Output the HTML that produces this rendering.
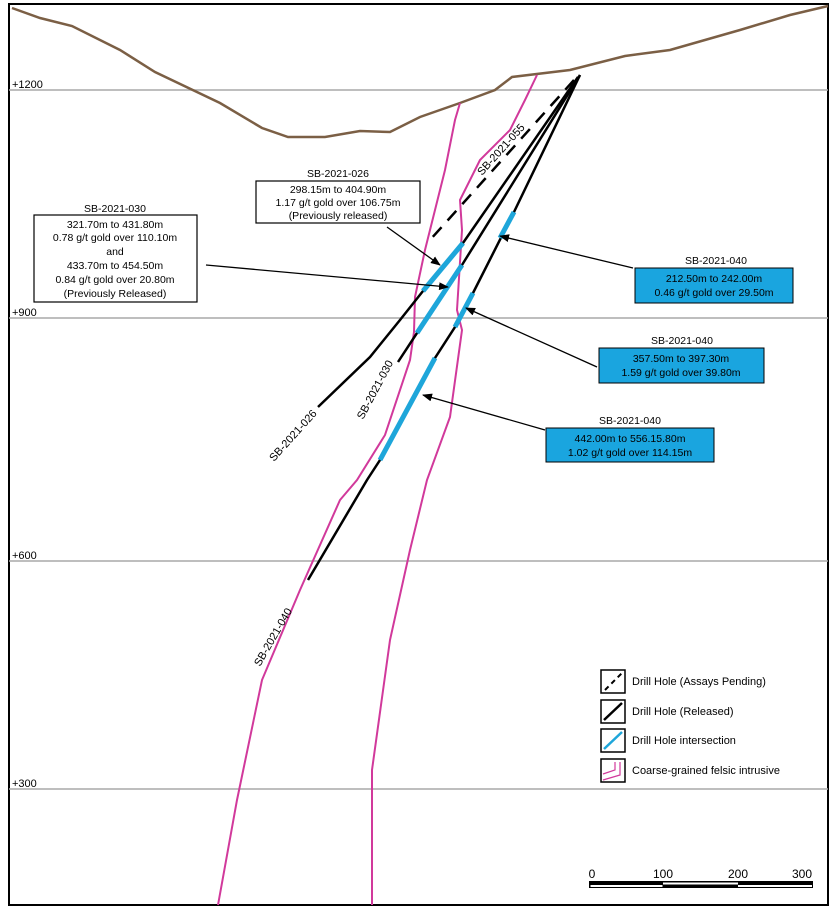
<!DOCTYPE html>
<html><head><meta charset="utf-8"><style>
body{margin:0;background:#fff}
svg text{font-family:"Liberation Sans",sans-serif}
</style></head><body>
<svg width="836" height="911" viewBox="0 0 836 911" xmlns="http://www.w3.org/2000/svg">
<defs><marker id="a" markerWidth="10" markerHeight="8" refX="9" refY="4" orient="auto" markerUnits="userSpaceOnUse"><path d="M0,0 L10,4 L0,8 Z" fill="#000"/></marker></defs>
<rect x="9" y="4" width="819" height="901" fill="#fff" stroke="#000" stroke-width="2"/>
<g stroke="#a8a8a8" stroke-width="1.5">
<line x1="9" y1="90" x2="828" y2="90"/><line x1="9" y1="318" x2="828" y2="318"/>
<line x1="9" y1="561" x2="828" y2="561"/><line x1="9" y1="789" x2="828" y2="789"/></g>
<g font-size="11"><text x="12" y="88">+1200</text><text x="12" y="316">+900</text><text x="12" y="559">+600</text><text x="12" y="787">+300</text></g>
<polyline fill="none" stroke="#7b5f45" stroke-width="2.5" points="12,8 40,18 72,26 120,50 155,72 220,103 262,128 288,137 325,137 360,131 390,132 420,117 460,103 495,90 512,77 570,70 625,56 670,50 740,30 790,15 828,6"/>
<g fill="none" stroke="#d1399b" stroke-width="2">
<polyline points="218,905 237,800 262,680 300,590 340,500 357,480 385,435 410,360 414,332 415,297 425,250 445,170 455,120 460,103"/>
<polyline points="372,905 372,770 390,640 410,550 427,480 450,417 462,330 457,310 462,230 460,200 480,160 510,130 525,100 537,75"/>
</g>
<g stroke="#000" stroke-width="2.5" fill="none">
<polyline points="580,75 514,212 472,295 455,327 435,358 380,460 367,480 308,580"/>
<polyline points="580,75 462,265 417,333 398,362"/>
<polyline points="578,77 463,243 423,291 400,320 370,357 318,407"/>
<line x1="574" y1="80" x2="430" y2="240" stroke-dasharray="13,9"/>
</g>
<g stroke="#1ea6da" stroke-width="5">
<line x1="500" y1="238" x2="514" y2="212"/><line x1="455" y1="327" x2="473" y2="293"/>
<line x1="380" y1="460" x2="435" y2="358"/>
<line x1="423" y1="291" x2="463" y2="243"/><line x1="417" y1="333" x2="462" y2="265"/>
</g>
<g font-size="11">
<text transform="translate(482,176) rotate(-48)">SB-2021-055</text>
<text transform="translate(274,462) rotate(-48)">SB-2021-026</text>
<text transform="translate(363,420) rotate(-62)">SB-2021-030</text>
<text transform="translate(260,667) rotate(-60)">SB-2021-040</text>
</g>
<g stroke="#000" stroke-width="1.3" marker-end="url(#a)">
<line x1="387" y1="227" x2="440" y2="265"/><line x1="206" y1="265" x2="448" y2="287"/>
<line x1="633" y1="268" x2="500" y2="236"/><line x1="597" y1="367" x2="466" y2="308"/>
<line x1="545" y1="430" x2="423" y2="395"/>
</g>
<g font-size="10.5" text-anchor="middle">
<text x="338" y="177">SB-2021-026</text>
<rect x="256" y="181" width="164" height="42" fill="#fff" stroke="#000" stroke-width="1.2"/>
<text x="338" y="193">298.15m to 404.90m</text><text x="338" y="206">1.17 g/t gold over 106.75m</text><text x="338" y="219">(Previously released)</text>
<text x="115" y="212">SB-2021-030</text>
<rect x="34" y="215" width="163" height="87" fill="#fff" stroke="#000" stroke-width="1.2"/>
<text x="115" y="228">321.70m to 431.80m</text><text x="115" y="241">0.78 g/t gold over 110.10m</text><text x="115" y="255">and</text><text x="115" y="269">433.70m to 454.50m</text><text x="115" y="283">0.84 g/t gold over 20.80m</text><text x="115" y="297">(Previously Released)</text>
<text x="716" y="264">SB-2021-040</text>
<rect x="635" y="268" width="158" height="35" fill="#1aa5df" stroke="#000"/>
<text x="714" y="282">212.50m to 242.00m</text><text x="714" y="296">0.46 g/t gold over 29.50m</text>
<text x="682" y="344">SB-2021-040</text>
<rect x="599" y="348" width="165" height="35" fill="#1aa5df" stroke="#000"/>
<text x="681" y="362">357.50m to 397.30m</text><text x="681" y="376">1.59 g/t gold over 39.80m</text>
<text x="630" y="424">SB-2021-040</text>
<rect x="546" y="428" width="168" height="34" fill="#1aa5df" stroke="#000"/>
<text x="630" y="442">442.00m to 556.15.80m</text><text x="630" y="456">1.02 g/t gold over 114.15m</text>
</g>
<g stroke="#000" stroke-width="1.5" fill="#fff">
<rect x="601" y="670" width="24" height="23"/><rect x="601" y="700" width="24" height="23"/>
<rect x="601" y="729" width="24" height="23"/><rect x="601" y="759" width="24" height="23"/></g>
<line x1="605" y1="690" x2="622" y2="673" stroke="#000" stroke-width="2" stroke-dasharray="5,4"/>
<line x1="604" y1="720" x2="622" y2="703" stroke="#000" stroke-width="2.5"/>
<line x1="604" y1="749" x2="622" y2="732" stroke="#1ea6da" stroke-width="2.5"/>
<polyline points="603,774 615,770 615,762" fill="none" stroke="#d1399b" stroke-width="1.2"/>
<polyline points="603,780 620,775 620,762" fill="none" stroke="#d1399b" stroke-width="1.2"/>
<g font-size="11"><text x="632" y="685">Drill Hole (Assays Pending)</text><text x="632" y="715">Drill Hole (Released)</text>
<text x="632" y="744">Drill Hole intersection</text><text x="632" y="774">Coarse-grained felsic intrusive</text></g>
<rect x="589" y="881" width="224" height="7" fill="#000"/>
<rect x="663" y="882.5" width="75" height="2" fill="#fff"/>
<rect x="590.5" y="885" width="72" height="2" fill="#fff"/><rect x="738" y="885" width="74" height="2" fill="#fff"/>
<g font-size="12" text-anchor="middle"><text x="592" y="878">0</text><text x="663" y="878">100</text><text x="738" y="878">200</text><text x="802" y="878">300</text></g>
</svg>
</body></html>
